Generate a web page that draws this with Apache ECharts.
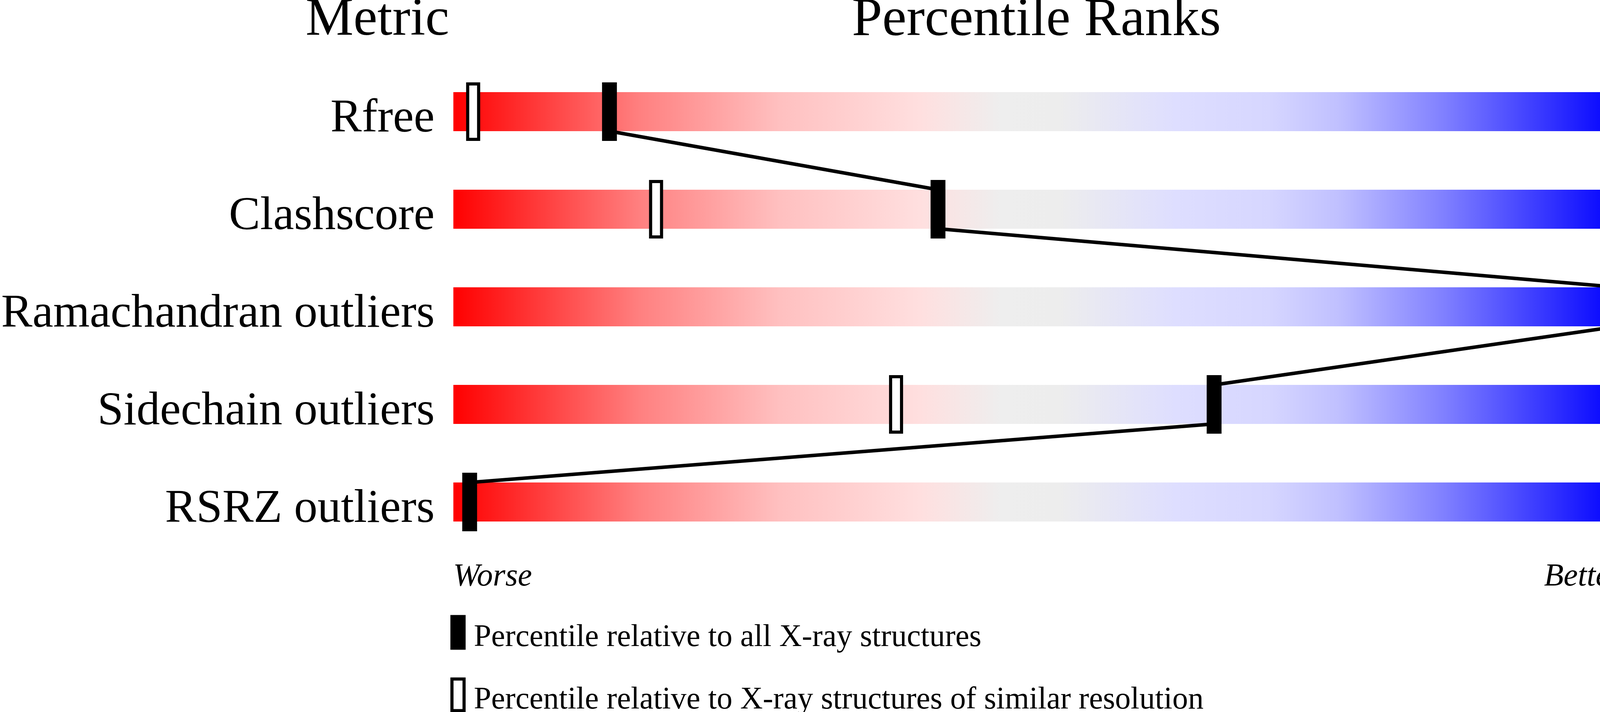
<!DOCTYPE html>
<html>
<head>
<meta charset="utf-8">
<script src="https://cdn.jsdelivr.net/npm/echarts@6/dist/echarts.min.js"></script>
<style>
  html, body { margin: 0; padding: 0; background: #fff; }
  #chart { width: 4506px; height: 1824px; }
</style>
</head>
<body>
<div id="chart"></div>
<script>
// percentile slider data
const metrics = ['Rfree', 'Clashscore', 'Ramachandran outliers', 'Sidechain outliers', 'RSRZ outliers']
const values = ['0.282', '6', '0', '1.1%', '29.3%']
const pctAll = [13.4, 41.6, 100, 65.3, 1.4]
const pctSimilar = [1.7, 17.4, null, 38.0, null]
const legendAll = 'Percentile relative to all X-ray structures'
const legendSimilar = 'Percentile relative to X-ray structures of similar resolution'

const serif = "'Liberation Serif', 'Times New Roman', serif"

const chart = echarts.init(document.getElementById('chart'))

// polyline from the bottom of one bar to the top of the next, through the filled markers
const halfBar = 0.2
const linkPoints = []
pctAll.forEach((p, i) => {
  if (i > 0) linkPoints.push([p, i - halfBar])
  if (i < pctAll.length - 1) linkPoints.push([p, i + halfBar])
})

// worse (red) -> grey -> better (blue)
const gradient = new echarts.graphic.LinearGradient(0, 0, 1, 0, [
  { offset: 0, color: '#ff0000' },
  { offset: 0.16, color: '#ff8080' },
  { offset: 0.28, color: '#ffc0c0' },
  { offset: 0.4, color: '#ffdfdf' },
  { offset: 0.47, color: '#eeeeee' },
  { offset: 0.52, color: '#ededed' },
  { offset: 0.62, color: '#dedeff' },
  { offset: 0.7, color: '#d6d6ff' },
  { offset: 0.76, color: '#c0c0ff' },
  { offset: 0.85, color: '#8080ff' },
  { offset: 1, color: '#0000ff' }
])

// marker drawn as a plain rect so the border keeps the same width on all sides
const markerItem = (w, h, fill, border) => (params, api) => {
  const pt = api.coord([api.value(0), api.value(1)])
  return {
    type: 'rect',
    shape: { x: pt[0] - w / 2, y: pt[1] - h / 2, width: w, height: h },
    style: { fill: fill, stroke: border ? '#000' : null, lineWidth: border }
  }
}

const legendText = {
  rich: { t: { fontSize: 80, fontFamily: serif, color: '#000', lineHeight: 81, padding: [28, 0, 0, 20] } }
}

const option = {
  animation: false,
  backgroundColor: '#fff',
  grid: { left: 1152, right: 353, top: 161, bottom: 413 },
  xAxis: { type: 'value', min: 0, max: 100, show: false },
  yAxis: [
    {
      type: 'category', data: metrics, inverse: true, position: 'left',
      axisLine: { show: false }, axisTick: { show: false }, splitLine: { show: false },
      axisLabel: { fontSize: 120, fontFamily: serif, color: '#000', margin: 48, verticalAlign: 'top', lineHeight: 38 }
    },
    {
      type: 'category', data: values, inverse: true, position: 'right',
      axisLine: { show: false }, axisTick: { show: false }, splitLine: { show: false },
      axisLabel: { fontSize: 120, fontFamily: serif, color: '#000', margin: 50, verticalAlign: 'top', lineHeight: 38 }
    },
    { type: 'value', min: -0.5, max: 4.5, inverse: true, show: false }
  ],
  legend: [
    {
      left: 1153, top: 1566, selectedMode: false, padding: 0,
      itemWidth: 31, itemHeight: 81,
      formatter: '{t|{name}}', textStyle: legendText,
      data: [{ name: legendAll, icon: 'rect', itemStyle: { color: '#000', borderColor: '#000', borderWidth: 8 } }]
    },
    {
      left: 1153, top: 1726, selectedMode: false, padding: 0,
      itemWidth: 31, itemHeight: 81,
      formatter: '{t|{name}}', textStyle: legendText,
      data: [{ name: legendSimilar, icon: 'rect', itemStyle: { color: '#fff', borderColor: '#000', borderWidth: 8 } }]
    }
  ],
  graphic: [
    { type: 'text', x: 1150, y: 53, style: { text: 'Metric', fontSize: 138, fontFamily: serif, fill: '#000', align: 'right', verticalAlign: 'middle' } },
    { type: 'text', x: 2653, y: 53, style: { text: 'Percentile Ranks', fontSize: 140, fontFamily: serif, fill: '#000', align: 'center', verticalAlign: 'middle' } },
    { type: 'text', x: 4157, y: 53, style: { text: 'Value', fontSize: 138, fontFamily: serif, fill: '#000', align: 'left', verticalAlign: 'middle' } },
    { type: 'text', x: 1160, y: 1478, style: { text: 'Worse', fontSize: 82, fontStyle: 'italic', fontFamily: serif, fill: '#000', align: 'left', verticalAlign: 'middle' } },
    { type: 'text', x: 4153, y: 1478, style: { text: 'Better', fontSize: 82, fontStyle: 'italic', fontFamily: serif, fill: '#000', align: 'right', verticalAlign: 'middle' } }
  ],
  series: [
    {
      type: 'bar', silent: true, z: 1,
      barWidth: 100,
      data: metrics.map(() => 100),
      itemStyle: { color: gradient }
    },
    {
      type: 'line', silent: true, z: 2,
      yAxisIndex: 2,
      symbol: 'none',
      data: linkPoints,
      lineStyle: { color: '#000', width: 9 }
    },
    {
      name: legendSimilar,
      type: 'custom', silent: true, z: 3,
      data: pctSimilar.map((p, i) => [p, i]).filter(d => d[0] != null),
      renderItem: markerItem(28, 142, '#fff', 8),
      itemStyle: { color: '#fff', borderColor: '#000', borderWidth: 8 }
    },
    {
      name: legendAll,
      type: 'custom', silent: true, z: 4,
      data: pctAll.map((p, i) => [p, i]),
      renderItem: markerItem(38, 150, '#000', 0),
      itemStyle: { color: '#000' }
    }
  ]
}

chart.setOption(option)
</script>
</body>
</html>
